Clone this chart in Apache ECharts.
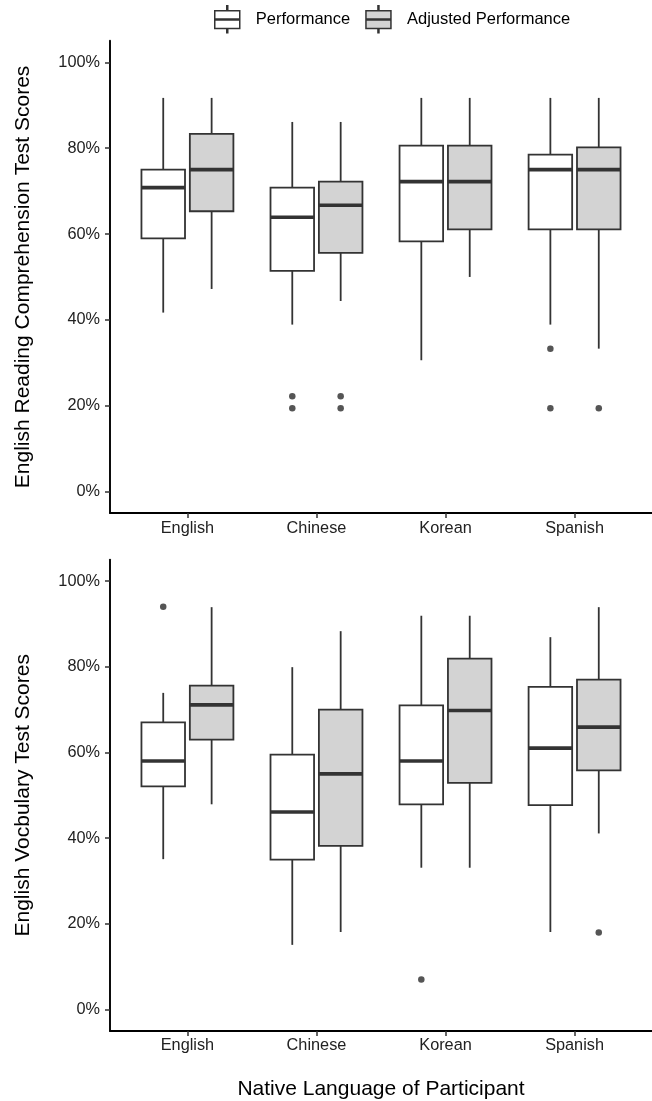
<!DOCTYPE html>
<html>
<head>
<meta charset="utf-8">
<script src="https://cdn.jsdelivr.net/npm/echarts@6/dist/echarts.min.js"></script>
<style>
  html, body { margin: 0; padding: 0; background: #ffffff; }
  #chart { width: 652px; height: 1101px; }
</style>
</head>
<body>
<div id="chart"></div>
<script>
// Native language groups on the x axis
const languages = ['English', 'Chinese', 'Korean', 'Spanish'];
const yTicks = [0, 20, 40, 60, 80, 100];

// Box statistics per language, in percent: [lower whisker, Q1, median, Q3, upper whisker]
const readingPerformance = [
  [41.7, 59.0, 70.8, 75.0, 91.7],
  [38.9, 51.4, 63.9, 70.8, 86.1],
  [30.6, 58.3, 72.2, 80.6, 91.7],
  [38.9, 61.1, 75.0, 78.5, 91.7]
];
const readingAdjusted = [
  [47.2, 65.3, 75.0, 83.3, 91.7],
  [44.4, 55.6, 66.7, 72.2, 86.1],
  [50.0, 61.1, 72.2, 80.6, 91.7],
  [33.3, 61.1, 75.0, 80.2, 91.7]
];
// Outliers: [language index, score %]
const readingPerformanceOutliers = [[1, 22.2], [1, 19.4], [3, 33.3], [3, 19.4]];
const readingAdjustedOutliers = [[1, 22.2], [1, 19.4], [3, 19.4]];

const vocabPerformance = [
  [35.1, 52.1, 58.0, 67.0, 73.9],
  [15.1, 35.0, 46.1, 59.5, 79.9],
  [33.1, 47.9, 58.0, 71.0, 91.9],
  [18.1, 47.7, 61.0, 75.3, 86.9]
];
const vocabAdjusted = [
  [47.9, 63.0, 71.1, 75.6, 93.9],
  [18.1, 38.2, 55.0, 70.0, 88.3],
  [33.1, 52.9, 69.8, 81.9, 91.9],
  [41.1, 55.8, 65.9, 77.0, 93.9]
];
const vocabPerformanceOutliers = [[0, 94.0], [2, 7.0]];
const vocabAdjustedOutliers = [[3, 18.0]];

const seriesNames = ['Performance', 'Adjusted Performance'];
const fills = ['#ffffff', '#d3d3d3'];
const INK = '#333333';
const FONT = 'Liberation Sans, Arial, sans-serif';

// Dodged positions: each group is 0.75 wide, boxes take 90% of their half
const DODGE = 0.1875;
const BOX_WIDTH = 0.3375;

function boxData(stats, shift) {
  return stats.map((s, i) => [i + 1 + shift].concat(s));
}
function outlierData(points, shift) {
  return points.map(p => [p[0] + 1 + shift, p[1]]);
}

function renderBox(params, api) {
  const x = api.value(0);
  const lo = api.coord([x, api.value(1)]);
  const q1 = api.coord([x, api.value(2)]);
  const md = api.coord([x, api.value(3)]);
  const q3 = api.coord([x, api.value(4)]);
  const hi = api.coord([x, api.value(5)]);
  const half = api.size([BOX_WIDTH, 0])[0] / 2;
  const fill = api.visual('color');
  const thin = { stroke: INK, lineWidth: 1.8 };
  return {
    type: 'group',
    children: [
      { type: 'line', shape: { x1: hi[0], y1: hi[1], x2: q3[0], y2: q3[1] }, style: thin },
      { type: 'line', shape: { x1: q1[0], y1: q1[1], x2: lo[0], y2: lo[1] }, style: thin },
      { type: 'rect', shape: { x: q3[0] - half, y: q3[1], width: half * 2, height: q1[1] - q3[1] },
        style: { fill: fill, stroke: INK, lineWidth: 1.8 } },
      { type: 'line', shape: { x1: md[0] - half, y1: md[1], x2: md[0] + half, y2: md[1] },
        style: { stroke: INK, lineWidth: 3.6 } }
    ]
  };
}

function boxSeries(idx, stats, gridIndex) {
  const shift = idx === 0 ? -DODGE : DODGE;
  return {
    type: 'custom',
    name: seriesNames[idx],
    xAxisIndex: gridIndex,
    yAxisIndex: gridIndex,
    itemStyle: { color: fills[idx], borderColor: INK, borderWidth: 1.5 },
    encode: { x: 0, y: [1, 2, 3, 4, 5] },
    data: boxData(stats, shift),
    renderItem: renderBox,
    z: 2
  };
}

function outlierSeries(idx, points, gridIndex) {
  const shift = idx === 0 ? -DODGE : DODGE;
  return {
    type: 'scatter',
    name: seriesNames[idx] + ' outliers',
    xAxisIndex: gridIndex,
    yAxisIndex: gridIndex,
    symbol: 'circle',
    symbolSize: 6.5,
    itemStyle: { color: '#2b2b2b' },
    data: outlierData(points, shift),
    z: 3
  };
}

function xAxis(gridIndex, withName) {
  return {
    type: 'value',
    gridIndex: gridIndex,
    min: 0.4,
    max: 4.6,
    splitLine: { show: false },
    axisLine: { show: true, onZero: false, lineStyle: { color: '#000', width: 1.9 } },
    axisTick: { show: true, length: 5, customValues: [1, 2, 3, 4], lineStyle: { color: INK, width: 1.5 } },
    axisLabel: {
      customValues: [1, 2, 3, 4],
      formatter: v => languages[Math.round(v) - 1],
      margin: 7,
      color: '#222',
      fontSize: 16.3,
      fontFamily: FONT
    },
    name: withName ? 'Native Language of Participant' : '',
    nameLocation: 'middle',
    nameGap: 48,
    nameTextStyle: { color: '#000', fontSize: 21, fontFamily: FONT }
  };
}

function yAxis(gridIndex, title) {
  return {
    type: 'value',
    gridIndex: gridIndex,
    min: -5,
    max: 105,
    splitLine: { show: false },
    axisLine: { show: true, onZero: false, lineStyle: { color: '#000', width: 1.9 } },
    axisTick: { show: true, length: 5, customValues: yTicks, lineStyle: { color: INK, width: 1.5 } },
    axisLabel: {
      customValues: yTicks,
      formatter: v => v + '%',
      margin: 10,
      color: '#222',
      fontSize: 16.3,
      fontFamily: FONT
    },
    name: title,
    nameLocation: 'middle',
    nameRotate: 90,
    nameGap: 76,
    nameTextStyle: { color: '#000', fontSize: 21, fontFamily: FONT }
  };
}

// Legend glyph: box with median bar and whisker stubs
const boxIcon = 'path://M0,5H25V22.7H0Z M12,0H13V5H12Z M12,22.7H13V27H12Z M0,13.3H25V14.3H0Z';

const chart = echarts.init(document.getElementById('chart'), null, { renderer: 'canvas' });
chart.setOption({
  animation: false,
  backgroundColor: '#ffffff',
  legend: {
    top: 5,
    left: 214,
    padding: 0,
    itemWidth: 25,
    itemHeight: 27,
    itemGap: 15,
    selectedMode: false,
    textStyle: { color: '#000', fontSize: 16.5, fontFamily: FONT, padding: [0, 0, 0, 11] },
    data: seriesNames.map((n, i) => ({
      name: n,
      icon: boxIcon,
      itemStyle: { color: fills[i], borderColor: INK, borderWidth: 1.5 }
    }))
  },
  grid: [
    { left: 110, top: 40.8, width: 553.5, height: 472.3 },
    { left: 110, top: 559.6, width: 553.5, height: 472.6 }
  ],
  xAxis: [xAxis(0, false), xAxis(1, true)],
  yAxis: [
    yAxis(0, 'English Reading Comprehension Test Scores'),
    yAxis(1, 'English Vocbulary Test Scores')
  ],
  series: [
    boxSeries(0, readingPerformance, 0),
    boxSeries(1, readingAdjusted, 0),
    outlierSeries(0, readingPerformanceOutliers, 0),
    outlierSeries(1, readingAdjustedOutliers, 0),
    boxSeries(0, vocabPerformance, 1),
    boxSeries(1, vocabAdjusted, 1),
    outlierSeries(0, vocabPerformanceOutliers, 1),
    outlierSeries(1, vocabAdjustedOutliers, 1)
  ]
});
</script>
</body>
</html>
